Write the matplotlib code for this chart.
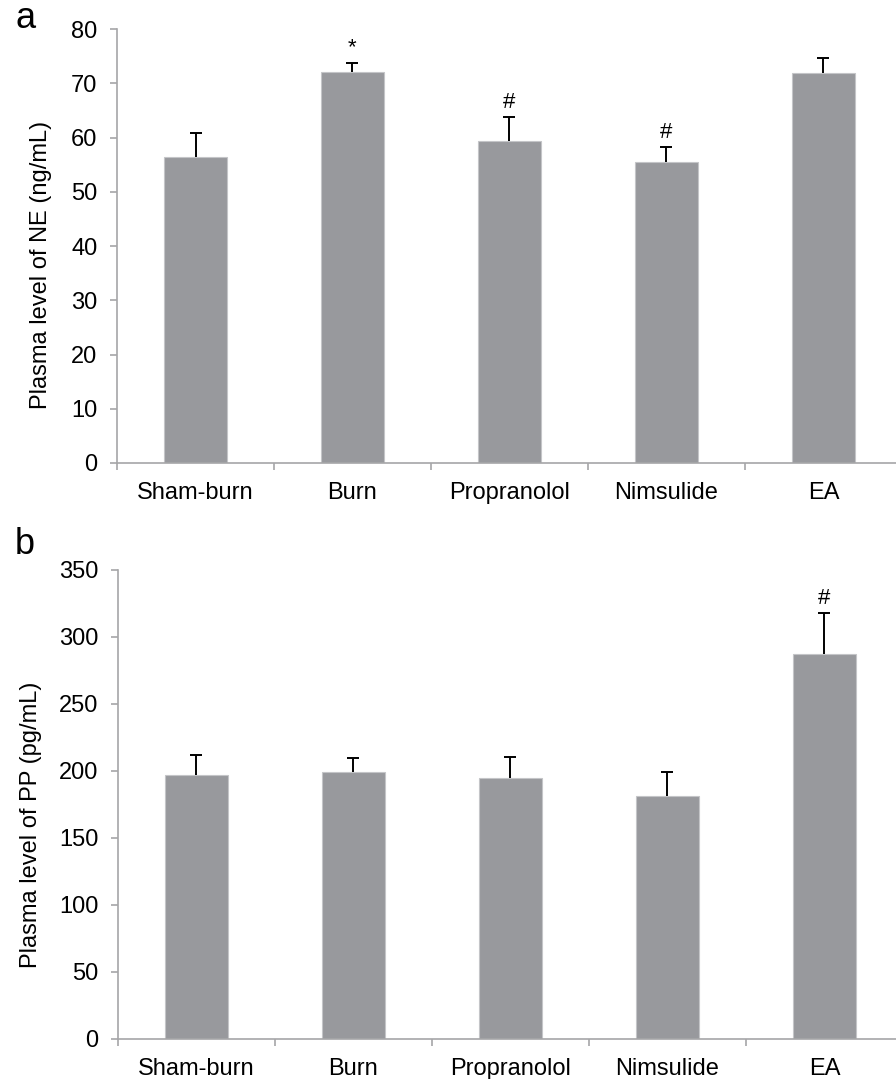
import numpy as np
import matplotlib
matplotlib.use("Agg")
import matplotlib.pyplot as plt

# ── Data ──────────────────────────────────────────────────────────────────────
GROUPS = ["Sham-burn", "Burn", "Propranolol", "Nimsulide", "EA"]

NE_MEAN = [56.4, 72.1, 59.4, 55.5, 71.9]
NE_ERR = [4.4, 1.7, 4.4, 2.7, 2.7]
NE_MARK = ["", "*", "#", "#", ""]

PP_MEAN = [197.2, 199.0, 195.1, 181.0, 287.2]
PP_ERR = [14.6, 11.0, 15.4, 18.0, 30.6]
PP_MARK = ["", "", "", "", "#"]

NE_TICKS = [0, 10, 20, 30, 40, 50, 60, 70, 80]
PP_TICKS = [0, 50, 100, 150, 200, 250, 300, 350]

BAR_COLOR = "#98999d"
AXIS_COLOR = "#a6a6a8"
FS = 17

plt.rcParams["font.family"] = ["Liberation Sans", "DejaVu Sans"]


def draw_panel(ax, means, errs, marks, ticks, ylabel, label_x, letter, letter_y):
    x = np.arange(len(GROUPS))
    ax.bar(x, means, width=0.4, color=BAR_COLOR, edgecolor="#c4c5c8",
           linewidth=0.8, zorder=2)
    eb = ax.errorbar(x, means, yerr=[np.zeros(len(errs)), errs], fmt="none",
                     ecolor="black", elinewidth=1.4, capsize=4.5, capthick=1.4,
                     zorder=3)
    # only the upper whisker is drawn in the original
    eb.lines[1][0].set_visible(False)
    for xi, m, e, s in zip(x, means, errs, marks):
        if s:
            ax.annotate(s, (xi, m + e), xytext=(0, 3), textcoords="offset points",
                        ha="center", va="bottom", fontsize=16)

    ax.set_xlim(-0.5, 4.5)
    ax.set_ylim(ticks[0], ticks[-1])
    ax.set_yticks(ticks)
    ax.set_xticks(x)
    ax.set_xticklabels(GROUPS, fontsize=FS)
    ax.set_xticks(np.arange(-0.5, 5.0, 1.0), minor=True)
    ax.tick_params(axis="x", which="major", length=0, pad=13.5)
    ax.tick_params(axis="x", which="minor", length=5, color=AXIS_COLOR, width=1.2)
    ax.tick_params(axis="y", labelsize=FS, length=5, color=AXIS_COLOR,
                   width=1.2, pad=9)
    for side in ["top", "right"]:
        ax.spines[side].set_visible(False)
    for side in ["left", "bottom"]:
        ax.spines[side].set_color(AXIS_COLOR)
        ax.spines[side].set_linewidth(1.2)

    ax.set_ylabel(ylabel, fontsize=FS)
    ax.yaxis.set_label_coords(label_x, 0.457)
    ax.figure.text(0.028, letter_y, letter, fontsize=26, ha="center", va="center")


fig = plt.figure(figsize=(8.96, 10.79), dpi=100)
ax_a = fig.add_axes([0.1306, 0.5709, 0.876, 0.4022])
ax_b = fig.add_axes([0.1317, 0.0371, 0.876, 0.4347])

draw_panel(ax_a, NE_MEAN, NE_ERR, NE_MARK, NE_TICKS,
           "Plasma level of NE (ng/mL)", -0.083, "a", 1 - 18 / 1079)
draw_panel(ax_b, PP_MEAN, PP_ERR, PP_MARK, PP_TICKS,
           "Plasma level of PP (pg/mL)", -0.097, "b", 1 - 545 / 1079)

fig.savefig("out.png", dpi=100)
